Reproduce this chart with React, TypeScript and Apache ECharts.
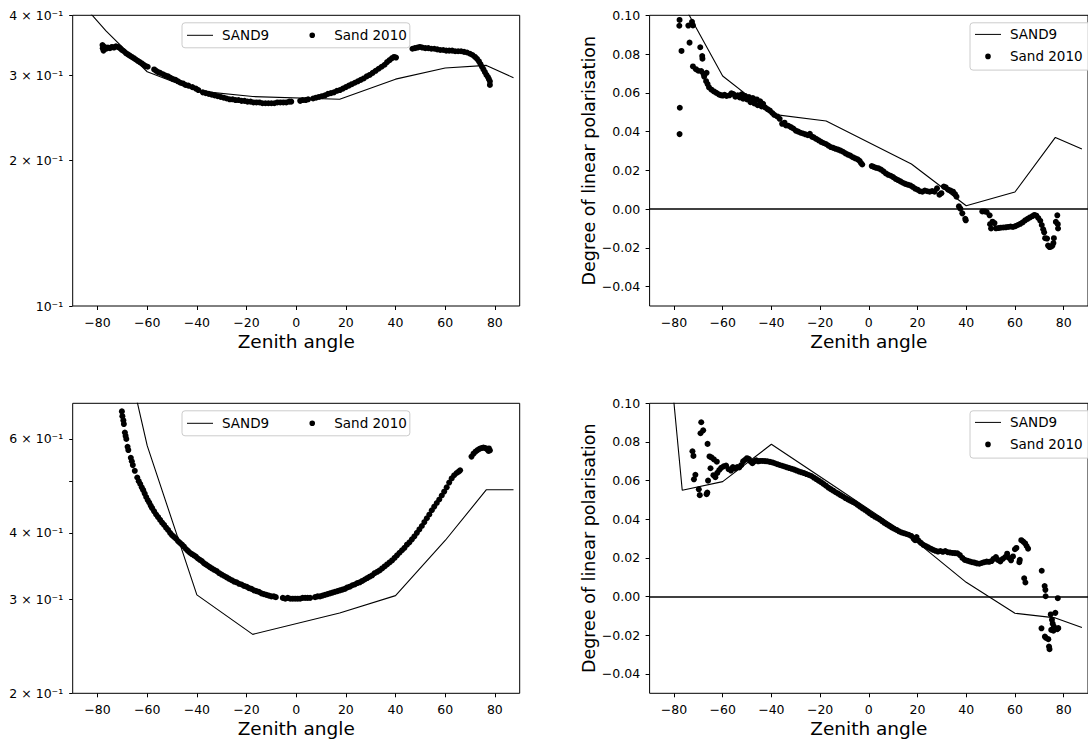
import React, { useEffect, useRef } from 'react';
import * as echarts from 'echarts';

const FONT = 'DejaVu Sans';

// ---- axis ticks ----
const xTicks = [-80, -60, -40, -20, 0, 20, 40, 60, 80];
const dlpTicks = [-0.04, -0.02, 0, 0.02, 0.04, 0.06, 0.08, 0.1];
const logTicksTop = [0.1, 0.2, 0.3, 0.4];
const logTicksBottom = [0.2, 0.3, 0.4, 0.5, 0.6];
const logLabelsBottom = [0.2, 0.3, 0.4, 0.6];

// ---- SAND9 model ----
const sand9Angles = [-87.5, -76.6, -60, -40, -17.5, 17.5, 40, 60, 76.6, 87.5];
const sand9TopLeft = [0.43, 0.3713, 0.3056, 0.279, 0.2715, 0.268, 0.295, 0.311, 0.315, 0.297];
const sand9TopRight = [0.13, 0.1066, 0.0687, 0.049, 0.0455, 0.0233, 0.0017, 0.0088, 0.037, 0.031];
const sand9BottomLeft = [2.0, 1.27, 0.583, 0.306, 0.258, 0.283, 0.305, 0.387, 0.482, 0.482];
const sand9BottomRight = [0.2, 0.055, 0.0595, 0.0788, 0.0599, 0.0305, 0.0074, -0.0086, -0.011, -0.016];

// ---- Sand 2010 measurements ----
const sand2010TopLeft: [number, number][] = [
  [-78.0, 0.347], [-77.9, 0.342], [-77.6, 0.338], [-77.2, 0.344], [-76.5, 0.341], [-75.8, 0.343], [-75.0, 0.342],
  [-74.2, 0.344], [-73.4, 0.343], [-72.6, 0.345], [-71.8, 0.344], [-71.0, 0.342], [-70.2, 0.339], [-69.4, 0.337],
  [-68.6, 0.334], [-67.8, 0.332], [-67.0, 0.330], [-66.2, 0.328], [-65.4, 0.326], [-64.6, 0.324], [-63.8, 0.322],
  [-63.0, 0.320], [-62.2, 0.318], [-61.4, 0.316], [-60.6, 0.314], [-59.8, 0.313], [-57.2, 0.309], [-56.4, 0.307],
  [-55.6, 0.305], [-54.8, 0.304], [-53.6, 0.302], [-52.6, 0.300], [-51.6, 0.299], [-50.6, 0.297], [-49.6, 0.295],
  [-48.6, 0.294], [-47.6, 0.292], [-46.6, 0.290], [-45.6, 0.289], [-44.6, 0.287], [-43.4, 0.286], [-41.8, 0.284],
  [-40.4, 0.282], [-39.4, 0.280], [-37.6, 0.277], [-36.4, 0.276], [-35.2, 0.275], [-34.0, 0.274], [-32.8, 0.273],
  [-31.6, 0.272], [-30.4, 0.271], [-29.2, 0.270], [-28.0, 0.269], [-26.8, 0.268], [-25.6, 0.268], [-24.4, 0.267],
  [-23.2, 0.267], [-22.0, 0.266], [-20.8, 0.266], [-19.6, 0.265], [-18.4, 0.265], [-17.2, 0.264], [-16.0, 0.264],
  [-14.8, 0.264], [-13.6, 0.263], [-12.4, 0.263], [-11.2, 0.263], [-10.0, 0.263], [-8.8, 0.263], [-7.6, 0.264],
  [-6.4, 0.264], [-5.2, 0.264], [-4.0, 0.264], [-2.8, 0.265], [-2.0, 0.265], [1.6, 0.266], [2.6, 0.267],
  [3.8, 0.267], [4.8, 0.268], [6.8, 0.269], [8.0, 0.270], [9.2, 0.271], [10.4, 0.272], [11.6, 0.273], [12.8, 0.275],
  [14.0, 0.276], [15.2, 0.277], [16.4, 0.279], [17.6, 0.280], [18.8, 0.282], [20.0, 0.284], [21.2, 0.286],
  [22.4, 0.288], [23.6, 0.290], [24.8, 0.292], [26.0, 0.294], [27.2, 0.296], [28.4, 0.299], [29.6, 0.301],
  [30.8, 0.304], [32.0, 0.307], [33.2, 0.310], [34.4, 0.313], [35.6, 0.316], [36.6, 0.320], [37.6, 0.323],
  [38.6, 0.326], [39.4, 0.328], [40.2, 0.327], [46.8, 0.341], [47.8, 0.342], [48.8, 0.343], [49.8, 0.344],
  [50.8, 0.343], [52.0, 0.342], [53.2, 0.342], [54.4, 0.341], [55.6, 0.341], [56.8, 0.340], [58.0, 0.339],
  [59.2, 0.339], [60.4, 0.338], [61.6, 0.338], [62.8, 0.338], [64.0, 0.337], [65.2, 0.337], [66.4, 0.337],
  [67.6, 0.336], [68.8, 0.335], [70.0, 0.333], [71.0, 0.331], [72.0, 0.328], [72.8, 0.325], [73.6, 0.321],
  [74.2, 0.317], [74.8, 0.313], [75.4, 0.309], [76.0, 0.305], [76.6, 0.301], [77.2, 0.298], [77.6, 0.295],
  [78.0, 0.292], [78.0, 0.287],
];

const sand2010TopRight: [number, number][] = [
  [-77.7, 0.0976], [-77.8, 0.0946], [-76.9, 0.0816], [-77.6, 0.0523], [-77.7, 0.0387], [-74.1, 0.0947],
  [-72.6, 0.0966], [-72.2, 0.0948], [-73.6, 0.0859], [-72.2, 0.0736], [-71.0, 0.0722], [-70.0, 0.0714],
  [-69.2, 0.0835], [-68.4, 0.079], [-68.3, 0.0776], [-68.8, 0.0712], [-67.9, 0.0698], [-67.6, 0.0684],
  [-66.6, 0.0703], [-66.8, 0.066], [-66.2, 0.0645], [-65.6, 0.0628], [-64.6, 0.0616], [-63.6, 0.0607],
  [-62.6, 0.06], [-61.6, 0.0592], [-60.8, 0.0588], [-60.0, 0.0586], [-59.2, 0.059], [-58.4, 0.0584],
  [-57.2, 0.0587], [-56.4, 0.0597], [-55.6, 0.0594], [-54.8, 0.058], [-53.8, 0.0587], [-53.0, 0.0576],
  [-52.2, 0.0592], [-51.6, 0.057], [-50.8, 0.0584], [-50.0, 0.0566], [-49.2, 0.0578], [-48.6, 0.0552],
  [-47.6, 0.0573], [-47.0, 0.0545], [-46.0, 0.0566], [-45.6, 0.0536], [-44.6, 0.0556], [-44.0, 0.053],
  [-43.4, 0.0543], [-42.6, 0.0525], [-41.6, 0.0516], [-40.6, 0.0508], [-39.6, 0.0496], [-38.8, 0.0486],
  [-37.6, 0.0478], [-36.6, 0.0466], [-35.6, 0.044], [-34.6, 0.0446], [-34.0, 0.0432], [-33.0, 0.043],
  [-32.0, 0.0423], [-31.0, 0.0416], [-30.0, 0.0405], [-29.0, 0.04], [-28.0, 0.0394], [-27.0, 0.039],
  [-26.0, 0.0386], [-25.0, 0.0381], [-24.2, 0.0388], [-23.4, 0.0374], [-22.6, 0.037], [-21.6, 0.0362],
  [-20.6, 0.0355], [-19.6, 0.0347], [-18.6, 0.0341], [-17.6, 0.0336], [-16.6, 0.0328], [-15.6, 0.032],
  [-14.6, 0.0316], [-13.6, 0.0311], [-12.6, 0.0307], [-11.6, 0.0302], [-10.6, 0.0296], [-9.6, 0.0288],
  [-8.6, 0.0281], [-7.6, 0.0276], [-6.6, 0.0268], [-5.6, 0.0262], [-4.6, 0.0257], [-3.8, 0.0249],
  [-3.2, 0.0238], [-2.7, 0.023], [1.2, 0.0222], [2.0, 0.0218], [3.0, 0.0213], [4.0, 0.021], [5.0, 0.0204],
  [6.0, 0.0195], [7.0, 0.0184], [8.0, 0.0177], [9.0, 0.0172], [10.0, 0.0165], [11.0, 0.0156], [12.0, 0.015],
  [13.0, 0.0143], [14.0, 0.0136], [15.0, 0.013], [16.0, 0.0126], [17.0, 0.0122], [18.0, 0.0115], [19.0, 0.0106],
  [20.0, 0.01], [21.0, 0.0092], [22.0, 0.009], [23.0, 0.0096], [24.0, 0.0092], [25.0, 0.009], [26.0, 0.0093],
  [27.0, 0.009], [28.0, 0.0107], [29.0, 0.0074], [29.8, 0.0082], [30.8, 0.0116], [31.6, 0.0112], [32.6, 0.01],
  [33.6, 0.0096], [34.6, 0.009], [35.4, 0.0078], [36.0, 0.0064], [37.0, 0.0014], [37.6, 0.0002], [38.4, -0.0022],
  [39.6, -0.005], [39.8, -0.0058], [46.6, -0.0012], [47.6, -0.0012], [48.4, -0.0015], [49.6, -0.0032],
  [49.8, -0.0078], [50.2, -0.01], [50.8, -0.0065], [51.6, -0.0072], [52.2, -0.0099], [53.2, -0.0098],
  [54.2, -0.0096], [55.2, -0.0095], [56.2, -0.0094], [57.2, -0.0092], [58.2, -0.009], [59.2, -0.0092],
  [60.2, -0.0088], [61.2, -0.0082], [62.2, -0.0076], [63.2, -0.0068], [64.2, -0.0058], [65.2, -0.005],
  [66.2, -0.0043], [67.2, -0.0036], [68.0, -0.003], [68.8, -0.0034], [69.6, -0.0046], [70.4, -0.006],
  [71.0, -0.0082], [71.6, -0.0104], [72.0, -0.012], [72.4, -0.015], [73.2, -0.0152], [73.6, -0.0188],
  [74.2, -0.0196], [74.8, -0.0194], [75.4, -0.0188], [75.8, -0.0175], [76.0, -0.015], [76.8, -0.0066],
  [77.4, -0.0032], [77.6, -0.0078], [77.7, -0.01],
];

const sand2010BottomLeft: [number, number][] = [
  [-70.2, 0.676], [-70.0, 0.662], [-69.6, 0.65], [-69.4, 0.64], [-69.0, 0.617], [-68.7, 0.608], [-68.4, 0.6],
  [-67.9, 0.58], [-67.6, 0.572], [-66.6, 0.553], [-66.2, 0.545], [-65.8, 0.536], [-65.0, 0.523], [-64.0, 0.508],
  [-63.4, 0.5], [-62.8, 0.494], [-62.2, 0.487], [-61.6, 0.481], [-61.0, 0.474], [-60.4, 0.467], [-59.8, 0.461],
  [-59.2, 0.456], [-58.6, 0.45], [-58.0, 0.445], [-57.2, 0.439], [-56.4, 0.433], [-55.6, 0.428], [-54.8, 0.423],
  [-54.0, 0.418], [-53.2, 0.414], [-52.4, 0.409], [-51.6, 0.405], [-50.8, 0.4], [-50.0, 0.396], [-49.2, 0.393],
  [-48.4, 0.39], [-47.6, 0.386], [-46.8, 0.383], [-46.0, 0.38], [-45.2, 0.377], [-44.4, 0.373], [-43.6, 0.37],
  [-42.8, 0.367], [-42.0, 0.365], [-41.2, 0.363], [-40.4, 0.361], [-39.6, 0.358], [-38.8, 0.356], [-38.0, 0.354],
  [-37.2, 0.351], [-36.4, 0.349], [-35.6, 0.347], [-34.8, 0.345], [-34.0, 0.343], [-33.0, 0.341], [-32.0, 0.339],
  [-31.0, 0.336], [-30.0, 0.334], [-29.0, 0.332], [-28.0, 0.33], [-27.0, 0.328], [-26.0, 0.326], [-25.0, 0.324],
  [-24.0, 0.323], [-23.0, 0.321], [-22.0, 0.32], [-21.0, 0.318], [-20.0, 0.317], [-19.0, 0.315], [-18.0, 0.314],
  [-17.0, 0.312], [-16.0, 0.311], [-15.0, 0.31], [-14.0, 0.308], [-13.0, 0.307], [-12.0, 0.306], [-11.0, 0.305],
  [-10.0, 0.304], [-9.0, 0.304], [-8.2, 0.303], [-5.4, 0.302], [-4.4, 0.301], [-3.4, 0.302], [-2.4, 0.301],
  [-1.4, 0.301], [-0.4, 0.301], [0.6, 0.301], [1.6, 0.301], [2.6, 0.302], [3.6, 0.302], [4.6, 0.302], [5.6, 0.302],
  [7.6, 0.303], [8.6, 0.304], [9.6, 0.304], [10.6, 0.305], [11.6, 0.306], [12.6, 0.307], [13.6, 0.308],
  [14.6, 0.309], [15.6, 0.31], [16.6, 0.311], [17.6, 0.312], [18.6, 0.313], [19.6, 0.314], [20.6, 0.316],
  [21.6, 0.317], [22.6, 0.319], [23.6, 0.32], [24.6, 0.322], [25.6, 0.323], [26.6, 0.325], [27.6, 0.327],
  [28.6, 0.329], [29.6, 0.331], [30.6, 0.333], [31.6, 0.336], [32.6, 0.338], [33.6, 0.34], [34.6, 0.343],
  [35.6, 0.346], [36.6, 0.349], [37.6, 0.352], [38.6, 0.355], [39.6, 0.359], [40.6, 0.363], [41.6, 0.367],
  [42.6, 0.371], [43.6, 0.375], [44.6, 0.38], [45.6, 0.384], [46.6, 0.389], [47.6, 0.394], [48.6, 0.4],
  [49.6, 0.406], [50.6, 0.412], [51.6, 0.419], [52.6, 0.426], [53.6, 0.433], [54.6, 0.441], [55.6, 0.448],
  [56.6, 0.455], [57.6, 0.462], [58.6, 0.47], [59.6, 0.478], [60.6, 0.487], [61.6, 0.497], [62.6, 0.506],
  [63.6, 0.513], [64.6, 0.518], [65.4, 0.521], [66.0, 0.524], [70.6, 0.556], [71.4, 0.563], [72.2, 0.568],
  [73.0, 0.572], [73.8, 0.575], [74.6, 0.577], [75.4, 0.578], [76.2, 0.577], [76.8, 0.574], [77.4, 0.57],
  [78.0, 0.571], [77.6, 0.576],
];

const sand2010BottomRight: [number, number][] = [
  [-72.4, 0.0752], [-72.0, 0.0728], [-71.8, 0.0607], [-71.2, 0.063], [-69.8, 0.0555], [-69.4, 0.0525],
  [-68.8, 0.0902], [-69.1, 0.0845], [-68.0, 0.086], [-66.2, 0.079], [-66.6, 0.053], [-66.3, 0.0538],
  [-66.0, 0.06], [-65.4, 0.0725], [-64.6, 0.072], [-63.6, 0.071], [-62.4, 0.0698], [-65.0, 0.0664],
  [-63.8, 0.0628], [-63.0, 0.0618], [-62.2, 0.064], [-61.4, 0.0655], [-60.6, 0.0666], [-59.6, 0.0674],
  [-58.6, 0.0678], [-57.6, 0.066], [-56.6, 0.0652], [-55.8, 0.067], [-55.0, 0.0662], [-54.0, 0.067],
  [-53.2, 0.0668], [-52.4, 0.068], [-51.6, 0.07], [-50.8, 0.0708], [-50.0, 0.0716], [-49.2, 0.0712],
  [-48.6, 0.07], [-47.8, 0.069], [-47.0, 0.07], [-46.2, 0.0705], [-45.4, 0.07], [-44.6, 0.0702],
  [-43.6, 0.0702], [-42.6, 0.0701], [-41.6, 0.07], [-40.6, 0.0697], [-39.6, 0.0694], [-38.6, 0.069],
  [-37.6, 0.0685], [-36.6, 0.0681], [-35.6, 0.0677], [-34.6, 0.0673], [-33.6, 0.0669], [-32.6, 0.0665],
  [-31.6, 0.0661], [-30.6, 0.0657], [-29.6, 0.0652], [-28.6, 0.0647], [-27.6, 0.0643], [-26.6, 0.0639],
  [-25.6, 0.0634], [-24.6, 0.0629], [-23.6, 0.0624], [-22.6, 0.0616], [-21.6, 0.0608], [-20.6, 0.06],
  [-19.6, 0.0592], [-18.6, 0.0583], [-17.6, 0.0574], [-16.6, 0.0564], [-15.6, 0.0556], [-14.6, 0.0548],
  [-13.6, 0.054], [-12.6, 0.0533], [-11.6, 0.0525], [-10.6, 0.0518], [-9.6, 0.051], [-8.6, 0.0503],
  [-7.6, 0.0496], [-6.6, 0.049], [-5.6, 0.0483], [-4.6, 0.0474], [-3.6, 0.0465], [-2.6, 0.0457],
  [-1.6, 0.0449], [-0.6, 0.044], [0.4, 0.043], [1.4, 0.0422], [2.4, 0.0414], [3.4, 0.0407], [4.4, 0.04],
  [5.4, 0.0391], [6.4, 0.0381], [7.4, 0.0373], [8.4, 0.0366], [9.4, 0.0358], [10.4, 0.0351], [11.4, 0.0345],
  [12.4, 0.0338], [13.4, 0.0332], [14.4, 0.0328], [15.4, 0.0324], [16.4, 0.032], [17.4, 0.0314], [18.4, 0.03],
  [19.0, 0.0292], [19.6, 0.0308], [20.4, 0.029], [21.4, 0.0278], [22.4, 0.0268], [23.4, 0.0262], [24.4, 0.0255],
  [25.4, 0.0248], [26.4, 0.0242], [27.4, 0.0237], [28.4, 0.0233], [29.4, 0.0236], [30.4, 0.0232], [31.4, 0.0236],
  [32.4, 0.023], [33.4, 0.0228], [34.4, 0.0226], [35.4, 0.0225], [36.4, 0.0224], [37.4, 0.0215], [38.4, 0.02],
  [39.4, 0.019], [40.4, 0.0186], [41.4, 0.0182], [42.4, 0.0178], [43.4, 0.0176], [44.4, 0.0172], [45.4, 0.017],
  [46.4, 0.0174], [47.4, 0.0178], [48.4, 0.0181], [49.4, 0.018], [50.4, 0.0184], [51.2, 0.0195], [52.2, 0.0205],
  [53.0, 0.019], [54.0, 0.0182], [55.0, 0.0195], [56.0, 0.0205], [56.8, 0.0222], [57.6, 0.02], [58.4, 0.0188],
  [59.2, 0.0208], [60.0, 0.0245], [60.6, 0.0252], [61.8, 0.0178], [62.0, 0.019], [62.6, 0.0292], [63.4, 0.0285],
  [64.2, 0.0275], [64.8, 0.0262], [65.4, 0.0248], [63.8, 0.0095], [64.3, 0.0073], [71.0, 0.0134], [72.2, 0.0055],
  [72.5, 0.0035], [72.6, 0.0002], [77.6, -0.0008], [70.9, -0.0164], [72.3, -0.0207], [72.8, -0.0214],
  [73.7, -0.022], [74.0, -0.0258], [74.2, -0.0272], [74.7, -0.0092], [75.2, -0.012], [75.5, -0.014],
  [76.0, -0.0155], [74.9, -0.0172], [75.8, -0.0176], [76.6, -0.0084], [77.4, -0.0168], [77.8, -0.0163],
];

const LINE_ICON = 'path://M0,0M30,12M0,5.5L26,5.5L26,6.5L0,6.5Z';
const DOT_ICON = 'path://M0,0M30,12M15.8,6A2.8,2.8,0,1,1,10.2,6A2.8,2.8,0,1,1,15.8,6Z';

const grids = [
  { left: 72.7, top: 15.3, width: 447, height: 290.7 },
  { left: 649.6, top: 15.3, width: 447, height: 290.7 },
  { left: 72.7, top: 403.3, width: 447, height: 290 },
  { left: 649.6, top: 403.3, width: 447, height: 290 },
];

const minus = (s: string) => s.replace('-', '\u2212');
const fmtX = (v: number) => minus(String(Math.round(v)));
const fmtDlp = (v: number) => (v < -1e-9 ? '\u2212' + Math.abs(v).toFixed(2) : Math.abs(v).toFixed(2));
const fmtLog = (v: number) => {
  const m = Math.round(v * 10);
  return m === 1 ? '10\u207B\u00B9' : m + ' \u00D7 10\u207B\u00B9';
};

const tickText = { fontFamily: FONT, fontSize: 12.5, color: '#000' };
const titleText = { fontFamily: FONT, fontSize: 18.5, color: '#000' };

function xAxisFor(i: number) {
  return {
    type: 'value', gridIndex: i, min: -90, max: 90,
    name: 'Zenith angle', nameLocation: 'middle', nameGap: 25.5,
    nameTextStyle: titleText,
    axisLine: { show: false, onZero: false }, splitLine: { show: false },
    axisTick: { show: true, length: 4, lineStyle: { color: '#000', width: 1 }, customValues: xTicks },
    axisLabel: { ...tickText, margin: 9.5, customValues: xTicks, formatter: fmtX },
  };
}

function dlpAxis(i: number) {
  return {
    type: 'value', gridIndex: i, min: -0.05, max: 0.1,
    name: 'Degree of linear polarisation', nameLocation: 'middle', nameGap: 50.5, nameRotate: 90,
    nameTextStyle: { fontFamily: FONT, fontSize: 17.5, color: '#000' },
    axisLine: { show: false, onZero: false }, splitLine: { show: false },
    axisTick: { show: true, length: 4, lineStyle: { color: '#000', width: 1 }, customValues: dlpTicks },
    axisLabel: { ...tickText, margin: 9.5, customValues: dlpTicks, formatter: fmtDlp },
  };
}

function logAxis(i: number, min: number, max: number, ticks: number[], labels: number[]) {
  return {
    type: 'log', logBase: 10, gridIndex: i, min, max,
    axisLine: { show: false, onZero: false }, splitLine: { show: false }, minorTick: { show: false },
    axisTick: { show: true, length: 3.5, lineStyle: { color: '#000', width: 1 }, customValues: ticks },
    axisLabel: { ...tickText, margin: 9.5, customValues: labels, formatter: fmtLog },
  };
}

function legendFor(i: number) {
  const g = grids[i];
  const right = i % 2 === 1;
  return {
    show: true,
    left: right ? 970 : 182,
    top: g.top + 7.5,
    orient: right ? 'vertical' : 'horizontal',
    itemWidth: 30, itemHeight: 12,
    itemGap: right ? 8 : 30.1,
    padding: right ? [4.6, 24, 6.7, 5] : [5.5, 3, 5.5, 5],
    backgroundColor: 'rgba(255,255,255,0.8)',
    borderColor: '#cccccc', borderWidth: 1, borderRadius: 3,
    selectedMode: false,
    textStyle: { fontFamily: FONT, fontSize: 13.5, color: '#000', lineHeight: 12 },
    data: [
      { name: 'SAND9', icon: LINE_ICON, itemStyle: { color: '#000', borderWidth: 0 } },
      { name: 'Sand 2010', icon: DOT_ICON, itemStyle: { color: '#000', borderWidth: 0 } },
    ],
  };
}

function seriesFor(i: number, model: number[], pts: [number, number][], zeroLine: boolean) {
  const line: any = {
    type: 'line', name: 'SAND9', xAxisIndex: i, yAxisIndex: i,
    data: sand9Angles.map((a, k) => [a, model[k]]),
    symbol: 'none', showSymbol: false, color: '#000',
    lineStyle: { color: '#000', width: 1.1 }, itemStyle: { color: '#000' },
    clip: true, z: 3, silent: true,
  };
  if (zeroLine) {
    line.markLine = {
      silent: true, symbol: ['none', 'none'], label: { show: false },
      lineStyle: { color: '#000', width: 1.7, type: 'solid' },
      data: [{ yAxis: 0 }],
    };
  }
  const scatter = {
    type: 'scatter', name: 'Sand 2010', xAxisIndex: i, yAxisIndex: i,
    data: pts, symbol: 'circle', symbolSize: 6, color: '#000',
    itemStyle: { color: '#000', opacity: 1 }, clip: true, z: 2, silent: true,
  };
  return [line, scatter];
}

export default function App() {
  const ref = useRef<HTMLDivElement>(null);
  useEffect(() => {
    if (!ref.current) return;
    const chart = echarts.init(ref.current, undefined, { renderer: 'svg' });
    const gridOpts = grids.map((g) => ({
      ...g, show: true, borderColor: '#000', borderWidth: 1, backgroundColor: 'transparent', containLabel: false,
    }));
    const option: any = {
      animation: false,
      backgroundColor: '#fff',
      grid: gridOpts,
      xAxis: [0, 1, 2, 3].map(xAxisFor),
      yAxis: [
        logAxis(0, 0.1, 0.4, logTicksTop, logTicksTop),
        dlpAxis(1),
        logAxis(2, 0.2, 0.7, logTicksBottom, logLabelsBottom),
        dlpAxis(3),
      ],
      legend: [0, 1, 2, 3].map(legendFor),
      series: [
        ...seriesFor(0, sand9TopLeft, sand2010TopLeft, false),
        ...seriesFor(1, sand9TopRight, sand2010TopRight, true),
        ...seriesFor(2, sand9BottomLeft, sand2010BottomLeft, false),
        ...seriesFor(3, sand9BottomRight, sand2010BottomRight, true),
      ],
    };
    chart.setOption(option);
    return () => chart.dispose();
  }, []);
  return (
    <div
      ref={ref}
      style={{ position: 'fixed', left: 0, top: 0, width: 1088, height: 740, background: '#fff' }}
    />
  );
}
